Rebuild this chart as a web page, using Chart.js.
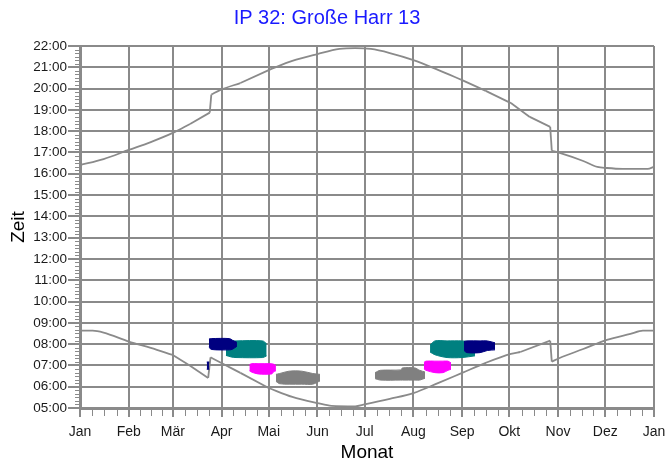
<!DOCTYPE html>
<html lang="de">
<head>
<meta charset="utf-8">
<title>IP 32: Große Harr 13</title>
<script src="https://cdn.jsdelivr.net/npm/chart.js@4.4.1/dist/chart.umd.min.js"></script>
<style>
  html, body { margin: 0; padding: 0; background: #fff; }
  canvas { display: block; }
</style>
</head>
<body>
<canvas id="chart" width="666" height="466"></canvas>
<script>
// Monatsanfänge (Tag im Jahr) und ihre Beschriftung
const monatTage = [0, 31, 59, 90, 120, 151, 181, 212, 243, 273, 304, 334, 365];
const monatNamen = ['Jan', 'Feb', 'Mär', 'Apr', 'Mai', 'Jun', 'Jul', 'Aug', 'Sep', 'Okt', 'Nov', 'Dez', 'Jan'];

// Sonnenuntergang (Uhrzeit in Stunden, mit Sommerzeit)
const untergangTage = [0, 15, 31, 45, 59, 70, 82.5, 83.5, 89, 102, 120, 135, 151, 165, 175, 185, 197, 212, 228, 243, 258, 274, 286, 299, 300, 305, 320, 329, 335, 345, 361, 365];
const untergangZeit = [16.41, 16.69, 17.12, 17.49, 17.92, 18.34, 18.87, 19.72, 19.93, 20.26, 20.87, 21.30, 21.62, 21.86, 21.90, 21.86, 21.67, 21.34, 20.87, 20.40, 19.89, 19.32, 18.67, 18.20, 17.08, 16.98, 16.60, 16.32, 16.27, 16.23, 16.23, 16.33];

// Sonnenaufgang
const aufgangTage = [0, 8, 15, 31, 45, 59, 70, 81.5, 83, 89, 102, 120, 135, 151, 160, 175, 181, 197, 212, 228, 243, 258, 274, 280, 299, 300, 305, 320, 335, 350, 358, 365];
const aufgangZeit = [8.63, 8.63, 8.54, 8.12, 7.82, 7.49, 6.98, 6.41, 7.38, 7.15, 6.65, 5.94, 5.52, 5.23, 5.10, 5.08, 5.17, 5.43, 5.70, 6.18, 6.65, 7.12, 7.54, 7.63, 8.16, 7.18, 7.35, 7.77, 8.20, 8.48, 8.63, 8.63];

// Schattenwurf je Anlage: Tage, Beginn (oben) und Ende (unten) in Stunden
const dunkelblauFruehTage = [82.0, 83.5, 95, 97, 99.8];
const dunkelblauFruehOben = [8.24, 8.26, 8.26, 8.18, 8.08];
const dunkelblauFruehUnten = [7.87, 7.75, 7.73, 7.76, 7.90];

const dunkelblauRestTage = [80.6, 82.2];
const dunkelblauRestOben = [7.16, 7.16];
const dunkelblauRestUnten = [6.82, 6.82];

const petrolFruehTage = [92.8, 96, 99.2, 116.2, 118.7];
const petrolFruehOben = [7.80, 8.12, 8.15, 8.15, 8.01];
const petrolFruehUnten = [7.47, 7.40, 7.37, 7.37, 7.45];

const magentaFruehTage = [107.7, 109, 113.2, 121.9, 123, 124.6];
const magentaFruehOben = [7.03, 7.08, 7.08, 7.08, 7.06, 7.00];
const magentaFruehUnten = [6.75, 6.69, 6.60, 6.60, 6.69, 6.75];

const grauFruehTage = [124.6, 127, 133, 141, 148, 152.6];
const grauFruehOben = [6.58, 6.62, 6.73, 6.73, 6.62, 6.58];
const grauFruehUnten = [6.25, 6.14, 6.12, 6.12, 6.12, 6.27];

const grauSpaetTage = [187.6, 191, 204, 205, 213, 216, 219.4];
const grauSpaetOben = [6.66, 6.77, 6.79, 6.88, 6.88, 6.77, 6.69];
const grauSpaetUnten = [6.38, 6.31, 6.31, 6.31, 6.31, 6.31, 6.40];

const magentaSpaetTage = [218.7, 220, 225.7, 230.8, 234, 235.9];
const magentaSpaetOben = [7.14, 7.20, 7.20, 7.20, 7.20, 7.12];
const magentaSpaetUnten = [6.84, 6.77, 6.66, 6.66, 6.77, 6.82];

const petrolSpaetTage = [222.6, 225.7, 233.4, 242.9, 251.2];
const petrolSpaetOben = [7.96, 8.15, 8.15, 8.15, 8.10];
const petrolSpaetUnten = [7.63, 7.50, 7.37, 7.37, 7.45];

const dunkelblauSpaetTage = [244.2, 246, 254.4, 259, 263.9];
const dunkelblauSpaetOben = [8.12, 8.15, 8.15, 8.15, 8.06];
const dunkelblauSpaetUnten = [7.70, 7.60, 7.60, 7.70, 7.73];

const GRAU = '#8a8a8a';

function punkte(tage, werte) {
  return tage.map((t, i) => ({ x: t, y: werte[i] }));
}

const datasets = [];

// Sonnenkurve: glatte Stücke, an der Zeitumstellung gerade Verbindung
function kurve(tage, zeit) {
  const linie = { borderColor: GRAU, borderWidth: 1.8, pointRadius: 0, fill: false, order: 5 };
  const alle = punkte(tage, zeit);
  let start = 0;
  for (let i = 1; i <= alle.length; i++) {
    const sprung = i < alle.length && Math.abs(alle[i].y - alle[i - 1].y) > 0.5;
    if (sprung || i === alle.length) {
      datasets.push({ ...linie, data: alle.slice(start, i), cubicInterpolationMode: 'monotone' });
      if (sprung) datasets.push({ ...linie, data: [alle[i - 1], alle[i]], tension: 0 });
      start = i;
    }
  }
}
kurve(untergangTage, untergangZeit);
kurve(aufgangTage, aufgangZeit);

// Flächen: obere Linie füllt bis zur folgenden unteren Linie
function flaeche(tage, oben, unten, farbe, order) {
  const basis = { borderColor: farbe, backgroundColor: farbe, borderWidth: 1, pointRadius: 0, tension: 0.3, order };
  datasets.push({ ...basis, data: punkte(tage, oben), fill: '+1' });
  datasets.push({ ...basis, data: punkte(tage, unten), fill: false });
}
flaeche(petrolFruehTage, petrolFruehOben, petrolFruehUnten, '#008080', 3);
flaeche(petrolSpaetTage, petrolSpaetOben, petrolSpaetUnten, '#008080', 3);
flaeche(magentaFruehTage, magentaFruehOben, magentaFruehUnten, '#ff00ff', 3);
flaeche(magentaSpaetTage, magentaSpaetOben, magentaSpaetUnten, '#ff00ff', 3);
flaeche(grauFruehTage, grauFruehOben, grauFruehUnten, '#808080', 3);
flaeche(grauSpaetTage, grauSpaetOben, grauSpaetUnten, '#808080', 3);
flaeche(dunkelblauFruehTage, dunkelblauFruehOben, dunkelblauFruehUnten, '#000080', 1);
flaeche(dunkelblauRestTage, dunkelblauRestOben, dunkelblauRestUnten, '#000080', 1);
flaeche(dunkelblauSpaetTage, dunkelblauSpaetOben, dunkelblauSpaetUnten, '#000080', 1);

// kleine Zwischenstriche: 10 Minuten an der Zeitachse, Monatsviertel an der Monatsachse
const nebenStriche = {
  id: 'nebenStriche',
  afterDraw(chart) {
    const { ctx, scales: { x, y } } = chart;
    ctx.save();
    ctx.strokeStyle = GRAU;
    ctx.lineWidth = 1;
    ctx.beginPath();
    for (let h = 5; h < 22; h++) {
      for (let m = 1; m < 6; m++) {
        const py = Math.round(y.getPixelForValue(h + m / 6)) + 0.5;
        ctx.moveTo(x.left - 5, py);
        ctx.lineTo(x.left - 1, py);
      }
    }
    for (let i = 0; i < monatTage.length - 1; i++) {
      const a = monatTage[i], b = monatTage[i + 1];
      for (let k = 1; k < 4; k++) {
        const px = Math.round(x.getPixelForValue(a + (b - a) * k / 4)) + 0.5;
        ctx.moveTo(px, y.bottom + 2);
        ctx.lineTo(px, y.bottom + 8);
      }
    }
    ctx.stroke();
    ctx.restore();
  },
};

const schrift = "'Liberation Sans', Arial, sans-serif";

new Chart(document.getElementById('chart'), {
  type: 'line',
  data: { datasets },
  options: {
    responsive: false,
    animation: false,
    layout: { padding: { left: 0, right: 12, top: 0, bottom: 0 } },
    plugins: {
      legend: { display: false },
      tooltip: { enabled: false },
      title: {
        display: true,
        text: 'IP 32: Große Harr 13',
        color: '#1a1aff',
        font: { family: schrift, size: 20, weight: 'normal' },
        padding: { top: 6, bottom: 16 },
      },
    },
    scales: {
      x: {
        type: 'linear',
        min: 0,
        max: 365,
        afterBuildTicks: (s) => { s.ticks = monatTage.map((v) => ({ value: v })); },
        afterFit: (s) => { s.height = 58; s.paddingLeft = 0; s.paddingRight = 12; },
        ticks: {
          autoSkip: false,
          maxRotation: 0,
          padding: 7,
          color: '#1a1a1a',
          font: { family: schrift, size: 14 },
          callback: (v, i) => monatNamen[i],
        },
        grid: { color: GRAU, lineWidth: 2, tickLength: 9, tickColor: GRAU },
        border: { color: GRAU, width: 3 },
        title: {
          display: true, text: 'Monat', color: '#000',
          font: { family: schrift, size: 19 }, padding: { top: 0, bottom: 2 },
        },
      },
      y: {
        min: 5,
        max: 22,
        afterFit: (s) => { s.width = 80; },
        ticks: {
          stepSize: 1,
          padding: 1,
          color: '#1a1a1a',
          font: { family: schrift, size: 13.5 },
          callback: (v) => String(v).padStart(2, '0') + ':00',
        },
        grid: { color: GRAU, lineWidth: 2, tickLength: 12, tickColor: GRAU },
        border: { color: GRAU, width: 3 },
        title: {
          display: true, text: 'Zeit', color: '#000',
          font: { family: schrift, size: 19 }, padding: { top: 7, bottom: 0 },
        },
      },
    },
  },
  plugins: [nebenStriche],
});
</script>
</body>
</html>
